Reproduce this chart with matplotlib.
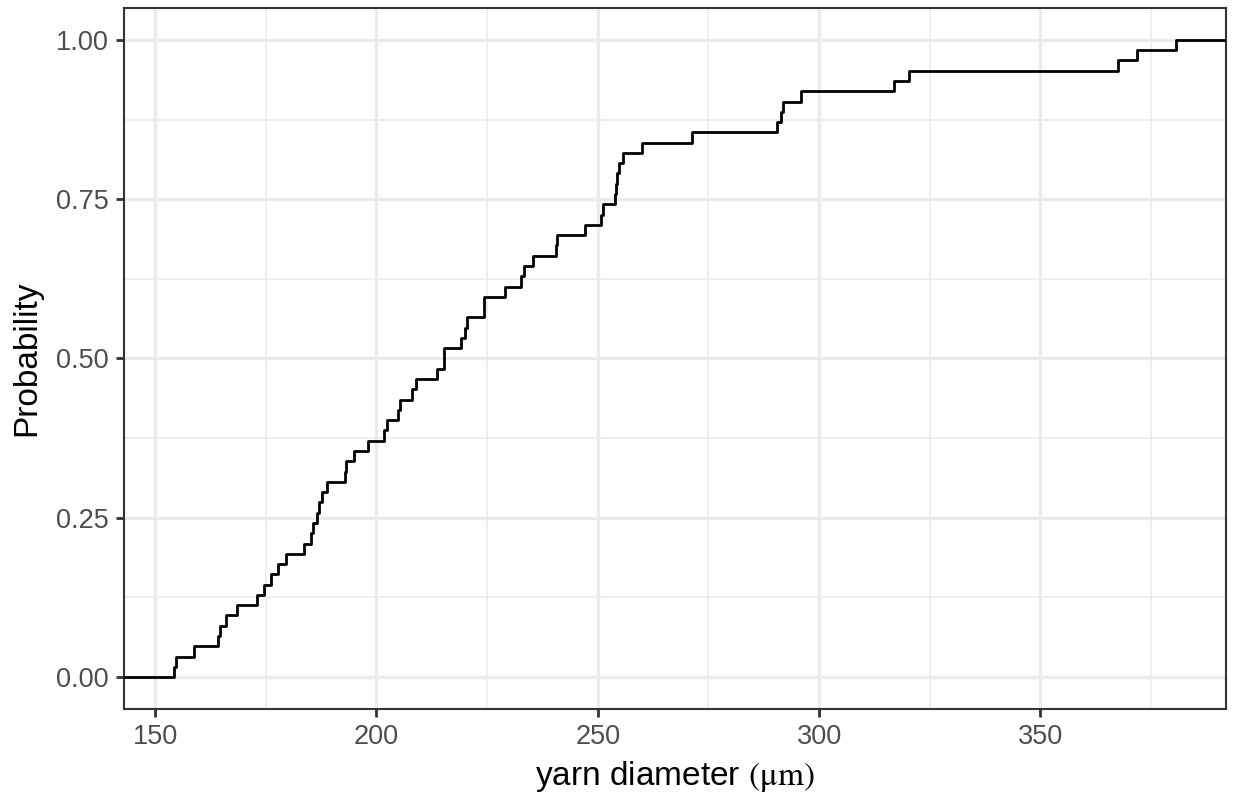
import numpy as np
import matplotlib
matplotlib.use('Agg')
import matplotlib.pyplot as plt
from matplotlib.ticker import MultipleLocator

# yarn diameters (um)
diameter = [154.3, 154.75, 158.8, 164.2, 164.7, 166.1, 168.5, 173.1, 174.5, 176.2,
            177.7, 179.6, 183.7, 185.3, 185.6, 186.6, 187.1, 187.7, 188.8, 193.0,
            193.1, 194.9, 198.1, 201.8, 202.3, 204.9, 205.4, 208.0, 209.0, 213.7,
            215.2, 215.3, 219.2, 220.1, 220.5, 224.3, 224.35, 229.0, 232.7, 233.3,
            235.4, 240.6, 240.7, 247.1, 250.7, 251.2, 253.8, 254.2, 254.4, 254.8,
            255.6, 259.9, 271.4, 290.6, 291.3, 291.8, 295.8, 317.0, 320.4, 367.6,
            371.7, 380.6]
x_ticks = [150, 200, 250, 300, 350]
y_ticks = [0.0, 0.25, 0.5, 0.75, 1.0]
y_ticklabels = ['0.00', '0.25', '0.50', '0.75', '1.00']

plt.rcParams['font.family'] = ['Liberation Sans', 'DejaVu Sans']
plt.rcParams['mathtext.fontset'] = 'stix'

x = np.sort(np.array(diameter))
n = len(x)
lo, hi = x.min(), x.max()
pad = 0.05 * (hi - lo)
xmin, xmax = lo - pad, hi + pad

# ecdf padded to the panel edges like stat_ecdf
xs = np.concatenate([[xmin], x, [xmax]])
ys = np.concatenate([[0.0], np.arange(1, n + 1) / n, [1.0]])

fig = plt.figure(figsize=(12.36, 8.05), dpi=100)
ax = fig.add_axes([124/1236, 1 - 709/805, (1226 - 124)/1236, (709 - 8)/805])

ax.step(xs, ys, where='post', color='black', lw=2.0, zorder=3)

ax.set_xlim(xmin, xmax)
ax.set_ylim(-0.05, 1.05)
ax.set_xticks(x_ticks)
ax.set_yticks(y_ticks)
ax.set_yticklabels(y_ticklabels)
ax.xaxis.set_minor_locator(MultipleLocator(25))
ax.yaxis.set_minor_locator(MultipleLocator(0.125))

ax.grid(which='major', color='#EBEBEB', lw=2.4, zorder=0)
ax.grid(which='minor', color='#EBEBEB', lw=1.2, zorder=0)
ax.set_axisbelow(True)

for s in ax.spines.values():
    s.set_color('#333333')
    s.set_linewidth(1.5)

ax.tick_params(which='major', length=6, width=2.0, color='#333333',
               labelsize=19.5, labelcolor='#4D4D4D', pad=5)
ax.tick_params(which='minor', length=0)

ax.set_xlabel(r'yarn diameter $\mathrm{(μm)}$', fontsize=24, labelpad=6)
ax.set_ylabel('Probability', fontsize=24, labelpad=10)

fig.savefig('out.png', dpi=100)
